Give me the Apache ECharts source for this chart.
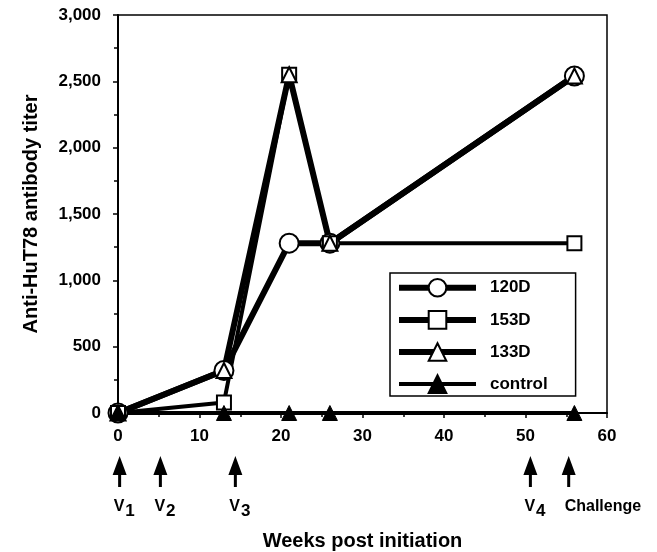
<!DOCTYPE html>
<html>
<head>
<meta charset="utf-8">
<script src="https://cdn.jsdelivr.net/npm/echarts@6/dist/echarts.min.js"></script>
<style>
  html, body { margin: 0; padding: 0; background: #fff; }
  #chart { width: 657px; height: 552px; }
</style>
</head>
<body>
<div id="chart"></div>
<script>
// weeks at which titers were measured
const weeks = [0, 13, 21, 26, 56]
const d120 = [0, 320, 1280, 1280, 2540]
const d153 = [0, 80, 2550, 1280, 1280]
const d133 = [0, 320, 2550, 1280, 2540]
const ctrl = [0, 0, 0, 0, 0]

// vaccination / challenge arrows under the x axis
const eventWeeks = [0.2, 5.2, 14.4, 50.6, 55.3]
const eventLabels = ['V{s|1}', 'V{s|2}', 'V{s|3}', 'V{s|4}', 'Challenge']

const font = 'Liberation Sans, Arial, sans-serif'
const pairs = (ys) => weeks.map((w, i) => [w, ys[i]])

const chart = echarts.init(document.getElementById('chart'), null, {renderer: 'canvas'})

chart.setOption({
  animation: false,
  grid: [
    {left: 118, right: 50, top: 15, bottom: 139, outerBoundsMode: 'none', show: true, borderColor: '#000', borderWidth: 1.5},
    {left: 118, right: 50, top: 455, height: 33, outerBoundsMode: 'none'}
  ],
  legend: {
    orient: 'vertical',
    left: 390,
    top: 273,
    padding: [5, 28, 2, 6],
    itemWidth: 77,
    itemHeight: 22,
    itemGap: 12.5,
    borderColor: '#000',
    borderWidth: 1.5,
    textStyle: {fontFamily: font, fontWeight: 'bold', fontSize: 17, color: '#000', padding: [0, 0, 0, 9]},
    data: [
      {name: '120D', lineStyle: {width: 6}},
      {name: '153D', lineStyle: {width: 6}},
      {name: '133D', lineStyle: {width: 6}},
      {name: 'control', lineStyle: {width: 4}}
    ]
  },
  xAxis: [
    {
      gridIndex: 0, type: 'value', min: 0, max: 60, interval: 10,
      name: 'Weeks post initiation', nameLocation: 'middle', nameGap: 118,
      nameTextStyle: {fontFamily: font, fontWeight: 'bold', fontSize: 20, color: '#000'},
      axisLine: {lineStyle: {color: '#000', width: 2}},
      axisTick: {length: 5, lineStyle: {width: 1.5, color: '#000'}},
      minorTick: {show: true, splitNumber: 2, length: 4, lineStyle: {width: 1.5, color: '#000'}},
      splitLine: {show: false},
      axisLabel: {fontFamily: font, fontWeight: 'bold', fontSize: 17, color: '#000', margin: 15}
    },
    {gridIndex: 1, type: 'value', min: 0, max: 60, show: false}
  ],
  yAxis: [
    {
      gridIndex: 0, type: 'value', min: 0, max: 3000, interval: 500,
      name: 'Anti-HuT78 antibody titer', nameLocation: 'middle', nameGap: 77,
      nameTextStyle: {fontFamily: font, fontWeight: 'bold', fontSize: 20, color: '#000'},
      axisLine: {show: true, lineStyle: {color: '#000', width: 2}},
      axisTick: {show: true, length: 5, lineStyle: {width: 1.5, color: '#000'}},
      minorTick: {show: true, splitNumber: 2, length: 4, lineStyle: {width: 1.5, color: '#000'}},
      splitLine: {show: false},
      axisLabel: {
        fontFamily: font, fontWeight: 'bold', fontSize: 17, color: '#000', margin: 17,
        formatter: (v) => v.toLocaleString('en-US')
      }
    },
    {gridIndex: 1, type: 'value', min: 0, max: 1, show: false}
  ],
  series: [
    {
      name: '120D', type: 'line', data: pairs(d120),
      symbol: 'circle', symbolSize: 19,
      lineStyle: {color: '#000', width: 6},
      itemStyle: {color: '#fff', borderColor: '#000', borderWidth: 2}
    },
    {
      name: '153D', type: 'line', data: pairs(d153),
      symbol: 'rect', symbolSize: 14,
      lineStyle: {color: '#000', width: 4},
      itemStyle: {color: '#fff', borderColor: '#000', borderWidth: 2}
    },
    {
      name: '133D', type: 'line', data: pairs(d133),
      symbol: 'triangle', symbolSize: 15,
      lineStyle: {color: '#000', width: 6},
      itemStyle: {color: '#fff', borderColor: '#000', borderWidth: 2}
    },
    {
      name: 'control', type: 'line', data: pairs(ctrl),
      symbol: 'triangle', symbolSize: 15,
      lineStyle: {color: '#000', width: 4},
      itemStyle: {color: '#000', borderColor: '#000', borderWidth: 1}
    },
    {
      type: 'scatter', xAxisIndex: 1, yAxisIndex: 1, silent: true,
      data: eventWeeks.map((w, i) => ({
        value: [w, 0.5],
        label: {formatter: eventLabels[i], offset: i === 4 ? [-4, 7] : [-6, 1]}
      })),
      symbol: 'path://M7,0 L14,19 L8.5,19 L8.5,31 L5.5,31 L5.5,19 L0,19 Z',
      symbolSize: [14, 31],
      itemStyle: {color: '#000', opacity: 1},
      label: {
        show: true, position: 'bottom', align: 'left',
        fontFamily: font, fontWeight: 'bold', fontSize: 16, color: '#000',
        rich: {s: {fontFamily: font, fontWeight: 'bold', fontSize: 17, color: '#000', verticalAlign: 'bottom', padding: [10, 0, 0, 1]}}
      }
    }
  ]
})
</script>
</body>
</html>
